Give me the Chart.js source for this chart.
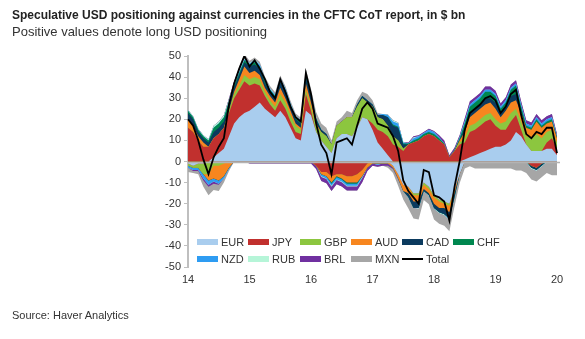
<!DOCTYPE html>
<html>
<head>
<meta charset="utf-8">
<script src="https://cdn.jsdelivr.net/npm/chart.js@4.4.1/dist/chart.umd.min.js"></script>
<style>
  body { margin: 0; background: #fff; font-family: "Liberation Sans", Arial, sans-serif; }
  #wrap { position: relative; width: 585px; height: 339px; overflow: hidden; }
  #chart { position: absolute; left: 0; top: 0; }
  .title { position: absolute; left: 12px; top: 8px; font-size: 12px; line-height: 14px; font-weight: bold; color: #222; white-space: nowrap; }
  .sub { position: absolute; left: 12px; top: 24px; font-size: 13px; line-height: 15px; color: #333; white-space: nowrap; }
  .src { position: absolute; left: 12px; top: 309px; font-size: 11px; line-height: 13px; color: #333; }
  .item { position: absolute; font-size: 11px; line-height: 12px; color: #333; white-space: nowrap; }
  .sw { display: inline-block; width: 21px; height: 6px; margin-right: 3px; vertical-align: middle; position: relative; top: -1px; }
</style>
</head>
<body>
<div id="wrap">
  <canvas id="chart" width="585" height="339"></canvas>
  <div class="title">Speculative USD positioning against currencies in the CFTC CoT report, in $ bn</div>
  <div class="sub">Positive values denote long USD positioning</div>
  <div class="src">Source: Haver Analytics</div>
</div>
<script>
// monthly, Jan 2014 .. Jan 2020
var MONTHS = [];
for (var i = 0; i < 73; i++) {
  MONTHS.push((2014 + Math.floor(i / 12)) + "-" + String(i % 12 + 1).padStart(2, "0"));
}
var YEAR_TICKS = ["14", "15", "16", "17", "18", "19", "20"];

var EUR = [
  -1, -2, -1, -1, 0, 2, 4, 6, 12, 18, 21, 23,
  24, 26, 28, 25, 23, 21, 24, 21, 16, 11, 10, 24,
  22, 14, 10, 7, 4, 11, 13, 13, 12, 16, 21, 20,
  15, 9, 6, 3, -2, -6, -11, -12, -15, -15, -10, -12,
  -16, -18, -19, -20, -13, -6, 1, 2, 3, 4, 5, 6,
  7, 7, 8, 10, 14, 12, 8, 5, 5, 5, 6, 6,
  3];
var JPY = [
  16, 14, 10, 7, 7, 9, 9, 10, 11, 12, 13, 15,
  12, 11, 8, 6, 4, 3, 5, 4, 3, 3, 3, 8,
  2, -2, -5, -5, -7, -6, -6, -7, -7, -6, -4, -1,
  3, 6, 8, 9, 8, 7, 5, 8, 9, 10, 12, 13,
  12, 10, 8, 2, 5, 8, 8, 12, 12, 13, 14, 14,
  10, 8, 7, 9, 8, 3, 0, -2, -3, -1, 3, 5,
  3];
var GBP = [
  -1, -1, -2, -5, -6, -2, -2, -1, 1, 2, 2, 3,
  3, 3, 3, 2, 2, 2, 3, 3, 3, 3, 2, 2,
  2, 3, 4, 5, 4, 6, 6, 8, 9, 10, 9, 8,
  8, 6, 6, 5, 4, 3, 1, 0, -1, -1, -1, -1,
  -1, -1, -1, -1, 0, 1, 2, 3, 3, 3, 3, 3,
  3, 3, 4, 4, 3, 4, 4, 6, 8, 6, 5, 4,
  3];
var AUD = [
  4, 3, 2, 2, -3, -6, -7, -6, -3, 1, 3, 4,
  3, 3, 2, 2, 2, 2, 3, 2, 2, 1, 1, 3,
  2, 1, -1, -2, -3, -1, -2, -3, -3, -4, -3, -2,
  -1, -1, -1, -1, -1, -2, -3, -3, -3, -3, -2, -2,
  -3, -3, -2, -3, -2, 1, 3, 4, 5, 5, 5, 5,
  5, 3, 5, 5, 4, 4, 4, 4, 6, 5, 4, 4,
  2];
var CAD = [
  3, 3, 2, 2, 2, 3, 3, 3, 3, 2, 2, 2,
  3, 3, 3, 2, 2, 2, 3, 3, 2, 2, 2, 3,
  3, 2, 1, 1, 0, 0, 0, 0, 0, 1, 1, 1,
  1, 1, 2, 4, 5, 6, 2, -2, -3, -3, -1, -1,
  -2, -2, -3, -3, -2, 0, 2, 2, 2, 2, 3, 2,
  3, 2, 2, 3, 3, 1, 0, -1, -1, -1, 0, 0,
  0];
var CHF = [
  1, 1, 1, 1, 1, 2, 2, 2, 1.5, 1, 1, 1,
  1, 1, 1, 1, 1, 1, 1, 1, 1, 1, 1, 1,
  1, 0.5, 0, 0, -0.5, -0.5, -0.5, -0.5, -0.5, -0.5, 0, 0,
  0, 0, 0, 0, 0.5, 0.5, 0.5, 0.5, 1, 1, 1, 1,
  1, 1, 0.5, 0, 0.5, 1, 2, 3, 3, 3, 3, 3,
  3, 2, 2, 3, 4, 2, 1, 1, 1, 1, 1, 1,
  0.5];
var NZD = [
  -1, -1, -1, -2, -2, -1.5, -1.5, -1, -0.5, 0.5, 0.5, 0.5,
  0.5, 1, 1, 1, 0.5, 0.5, 0.5, 0.5, 0.5, 0.5, 0.5, 0.5,
  0.5, 0, -1, -1, -1, -1, -1, -1, -1, -1, -0.5, 0,
  0, -0.5, 0.5, 1, 1.5, 1.5, 0.5, 0, 1, 1, 0.5, 1,
  1, 0.5, 0, -0.5, 0, 0.5, 1, 1, 1, 1, 1, 1,
  1, 1, 1, 1, 1, 1, 1, 1, 1, 1, 1, 1,
  0.5];
var RUB = [
  0.5, 0.5, 0.5, 0.5, 0.5, 1, 1, 1, 1, 0.5, 0.5, 0.5,
  0.3, 0.3, 0.3, 0.3, 0.3, 0.3, 0.3, 0.3, 0.3, 0.3, 0.3, 0.3,
  0, 0, -0.3, -0.3, -0.5, -0.3, -0.3, -0.3, -0.3, -0.3, -0.3, 0,
  0, 0, 0, 0.3, 0.5, 0.5, 0.3, -0.3, 0.5, -0.5, -0.3, -0.3,
  -0.5, -0.5, -0.5, -0.5, -0.3, -0.3, -0.3, -0.3, -0.3, -0.3, -0.3, -0.3,
  -0.3, -0.3, -0.3, -0.3, -0.3, -0.3, -0.5, -0.5, -0.5, -0.5, -0.5, -0.5,
  -0.5];
var BRL = [
  0, -0.5, -0.5, -1, -1, -1, -0.5, 0, 0.5, 1, 1, 1,
  -1, -1, -1, -1, -1, -1, -1, -1, -1, -1, -1, -1,
  -1, -1.5, -2, -2, -2, -2, -2, -2, -2, -2, -2, -1.5,
  -1, -1, -1, -1, -0.5, -0.5, 0, 0.5, 0.5, 0.5, 0.5, 0.5,
  0.5, 1, 1.5, 1, 1, 1, 1.5, 1.5, 1.5, 1.5, 1.5, 1.5,
  1.5, 1.5, 1.5, 1.5, 1.5, 1.5, 1.5, 1.5, 1.5, 1.5, 1.5, 1.5,
  1];
var MXN = [
  -2, -1, -1.5, -3, -4, -3, -3, -2, -1, 0, 1, 1,
  1, 1, 1, 1, 1, 1, 1, 1, 1, 1, 1, 2,
  2, 3, 3, 3, 2, 2, 2, 3, 2, 2, 2, 3,
  2, 1, 0, -1, -2, -3, -4, -5, -5, -5, -4, -4,
  -5, -5, -5, -5, -4, -4, -3, -2, -3, -3, -3, -3,
  -3, -3, -3, -3, -4, -4, -5, -5, -5, -5, -5, -6,
  -6];
var TOTAL = [
  20, 17, 10, 1, -6, 2, 7, 11, 27, 37, 44, 50,
  45, 48, 44, 39, 33, 30, 39, 33, 26, 21, 19, 42,
  32, 18, 8, 4, -6, 9, 10, 11, 8, 17, 25, 28,
  25, 18, 17, 16, 12, 5, -9, -14, -17, -20, -4, -5,
  -16, -17, -19, -28, -12, 0, 15, 23, 25, 27, 30, 31,
  29, 23, 26, 32, 34, 22, 13, 11, 14, 13, 16, 16,
  4];

var SERIES = [
  ["EUR", EUR, "#a9cdee"],
  ["JPY", JPY, "#c1302e"],
  ["GBP", GBP, "#8cc63f"],
  ["AUD", AUD, "#f7861f"],
  ["CAD", CAD, "#0b3a5e"],
  ["CHF", CHF, "#00874f"],
  ["NZD", NZD, "#2e9cf2"],
  ["RUB", RUB, "#b6f5d8"],
  ["BRL", BRL, "#7030a0"],
  ["MXN", MXN, "#a6a6a6"]
];

var FONT = "'Liberation Sans', Arial, sans-serif";

// positive and negative parts are stacked separately, each filled from zero
var datasets = [];
SERIES.forEach(function(s) {
  datasets.push({
    label: s[0], data: s[1].map(function(v) { return v > 0 ? v : 0; }),
    backgroundColor: s[2], borderWidth: 0, fill: "origin", stack: "pos",
    pointRadius: 0, tension: 0
  });
});
SERIES.forEach(function(s) {
  datasets.push({
    label: s[0] + " neg", data: s[1].map(function(v) { return v < 0 ? v : 0; }),
    backgroundColor: s[2], borderWidth: 0, fill: "origin", stack: "neg",
    pointRadius: 0, tension: 0
  });
});
datasets.push({
  label: "Total", data: TOTAL, borderColor: "#000", borderWidth: 1.8,
  fill: false, stack: "total", pointRadius: 0, tension: 0, order: -1
});
var totalIndex = datasets.length - 1;

var zeroLine = {
  id: "zeroLine",
  beforeDatasetDraw: function(chart, args) {
    if (args.index !== totalIndex) return;
    var ctx = chart.ctx, a = chart.chartArea;
    var y = Math.round(chart.scales.y.getPixelForValue(0)) + 0.5;
    ctx.save();
    ctx.strokeStyle = "#b3b3b3";
    ctx.lineWidth = 1.5;
    ctx.beginPath();
    ctx.moveTo(a.left, y);
    ctx.lineTo(a.right + 3, y);
    ctx.stroke();
    ctx.restore();
  }
};

new Chart(document.getElementById("chart").getContext("2d"), {
  type: "line",
  data: { labels: MONTHS, datasets: datasets },
  plugins: [zeroLine],
  options: {
    responsive: false,
    animation: false,
    layout: { padding: { top: 56, right: 28, bottom: 52, left: 0 } },
    plugins: { legend: { display: false }, tooltip: { enabled: false } },
    scales: {
      x: {
        grid: { display: false, drawTicks: false },
        border: { display: false },
        ticks: {
          autoSkip: false, maxRotation: 0, padding: 6, color: "#333",
          font: { family: FONT, size: 11 },
          callback: function(v, i) { return i % 12 === 0 ? YEAR_TICKS[i / 12] : null; }
        },
        afterFit: function(s) { s.height = 20; }
      },
      y: {
        stacked: true, min: -50, max: 50,
        ticks: { stepSize: 10, padding: 3, color: "#333", font: { family: FONT, size: 11 } },
        grid: { drawOnChartArea: false, tickLength: 4, tickColor: "#bfbfbf" },
        border: { color: "#bfbfbf", width: 2 },
        afterFit: function(s) { s.width = 188; }
      }
    }
  }
});

// legend drawn over the plot area, two rows
var wrap = document.getElementById("wrap");
var legendItems = SERIES.map(function(s) { return [s[0], s[2], false]; });
legendItems.push(["Total", "#000", true]);
var LEG_X = [197, 248, 300, 351, 402, 453];
var LEG_Y = [236, 253];
legendItems.forEach(function(it, k) {
  var d = document.createElement("div");
  d.className = "item";
  d.style.left = LEG_X[k % 6] + "px";
  d.style.top = LEG_Y[Math.floor(k / 6)] + "px";
  var sw = document.createElement("span");
  sw.className = "sw";
  sw.style.background = it[1];
  if (it[2]) { sw.style.height = "2px"; }
  d.appendChild(sw);
  d.appendChild(document.createTextNode(it[0]));
  wrap.appendChild(d);
});
</script>
</body>
</html>
